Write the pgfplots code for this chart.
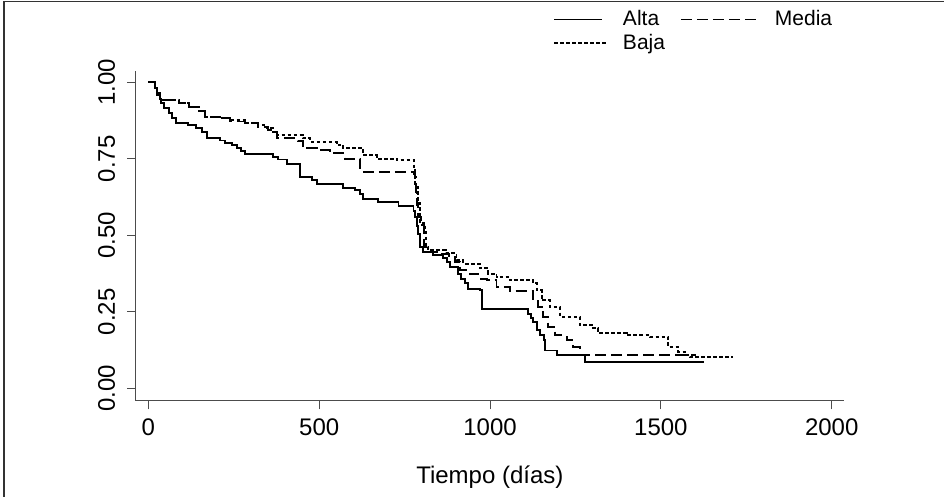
\documentclass[border=0pt]{standalone}
\usepackage{pgfplots}
\pgfplotsset{compat=1.18}
\usepackage{fontspec}
\setmainfont{Liberation Sans}
\begin{document}
\fontsize{24}{28}\selectfont
\begin{tikzpicture}[x=1pt,y=1pt]
\useasboundingbox (0,0) rectangle (944,497);
\draw[line width=1.5pt, black!80] (4,0) -- (4,495.5) -- (944,495.5);
\begin{axis}[
  at={(135.7pt,96pt)}, anchor=south west,
  scale only axis, width=708.3pt, height=330.3pt,
  xmin=-37, xmax=2036, ymin=-0.041, ymax=1.038,
  axis x line*=bottom, axis y line*=left,
  every outer x axis line/.append style={-},
  every outer y axis line/.append style={-},
  axis line style={black!70, line width=1pt, -},
  xtick={0,500,1000,1500,2000},
  xticklabels={0,500,1000,1500,2000},
  ytick={0,0.25,0.5,0.75,1},
  yticklabels={0.00,0.25,0.50,0.75,1.00},
  tick align=outside, major tick length=8.5pt,
  tick style={black!70, line width=1pt},
  /pgf/number format/assume math mode=true,
  ticklabel style={font=\fontsize{24}{28}\selectfont},
  xticklabel style={yshift=-1pt},
  yticklabel style={xshift=-4pt, rotate=90, anchor=south},
  xlabel={Tiempo (días)},
  xlabel style={font=\fontsize{24}{28}\selectfont, yshift=-14pt},
  legend columns=2,
  legend style={draw=none, fill=none, inner sep=0pt,
    at={(axis description cs:0.589,1.184)}, anchor=north west,
    font=\fontsize{21}{25}\selectfont,
    nodes={inner sep=0pt, anchor=west},
    row sep=5pt,
    /tikz/every odd column/.append style={column sep=15pt},
    /tikz/every even column/.append style={column sep=15pt}},
]
\addplot[const plot, mark=none, black, line width=1.9pt,
  legend image code/.code={\draw[black, line width=1.9pt] (0pt,0pt) -- (48pt,0pt);}]
coordinates {
(0,1.0) (20,0.98) (25,0.964) (33,0.945) (37,0.931) (47,0.915) (61,0.899) (70,0.882)
(80,0.868) (117,0.860) (140,0.850) (156,0.839) (172,0.817) (210,0.810) (224,0.803)
(244,0.795) (259,0.784) (270,0.775) (283,0.766) (366,0.757) (380,0.748) (405,0.732)
(444,0.691) (478,0.680) (493,0.667) (571,0.656) (605,0.648) (620,0.635) (629,0.620)
(673,0.609) (732,0.597) (776,0.580) (780,0.560) (785,0.530) (790,0.506) (795,0.462)
(805,0.446) (834,0.435) (863,0.425) (873,0.414) (883,0.397) (907,0.375) (916,0.359)
(926,0.343) (936,0.326) (970,0.321) (976,0.261) (1110,0.244) (1120,0.230) (1127,0.217)
(1137,0.191) (1147,0.174) (1157,0.157) (1162,0.124) (1196,0.108) (1278,0.086) (1626,0.086)
};
\addlegendentry{Alta}
\addplot[const plot, mark=none, black, line width=1.9pt, dash pattern=on 11pt off 5pt,
  legend image code/.code={\draw[black, line width=1.9pt, dash pattern=on 11pt off 5pt] (0pt,0pt) -- (78pt,0pt);}]
coordinates {
(0,1.0) (20,0.98) (25,0.958) (35,0.942) (89,0.931) (118,0.920) (147,0.905) (166,0.888)
(215,0.882) (239,0.872) (283,0.866) (322,0.855) (351,0.844) (366,0.838) (376,0.817)
(438,0.809) (453,0.784) (493,0.778) (532,0.768) (576,0.751) (620,0.708) (776,0.702)
(780,0.691) (783,0.640) (786,0.600) (788,0.560) (797,0.533) (807,0.462) (817,0.446)
(850,0.440) (880,0.430) (898,0.414) (912,0.386) (941,0.375) (966,0.359) (990,0.354)
(1019,0.332) (1058,0.318) (1127,0.288) (1141,0.266) (1156,0.234) (1170,0.201) (1190,0.174)
(1224,0.157) (1244,0.135) (1264,0.108) (1603,0.108)
};
\addlegendentry{Media}
\addplot[const plot, mark=none, black, line width=1.9pt, dash pattern=on 3.5pt off 2.5pt,
  legend image code/.code={\draw[black, line width=1.9pt, dash pattern=on 3.5pt off 2.5pt] (0pt,0pt) -- (53pt,0pt);}]
coordinates {
(0,1.0) (20,0.98) (25,0.958) (35,0.942) (89,0.931) (118,0.920) (147,0.905) (166,0.888)
(215,0.882) (239,0.877) (283,0.866) (322,0.861) (346,0.850) (366,0.838) (376,0.828)
(453,0.817) (473,0.806) (551,0.795) (571,0.784) (629,0.762) (668,0.751) (727,0.746)
(778,0.713) (781,0.658) (788,0.605) (794,0.540) (810,0.520) (812,0.462) (819,0.451)
(870,0.441) (902,0.419) (922,0.408) (970,0.392) (995,0.375) (1019,0.364) (1058,0.353)
(1127,0.343) (1137,0.321) (1151,0.288) (1175,0.266) (1205,0.234) (1263,0.206) (1302,0.196)
(1317,0.180) (1400,0.174) (1468,0.168) (1522,0.135) (1551,0.119) (1575,0.108) (1585,0.102)
(1712,0.102)
};
\addlegendentry{Baja}
\end{axis}
\end{tikzpicture}
\end{document}
